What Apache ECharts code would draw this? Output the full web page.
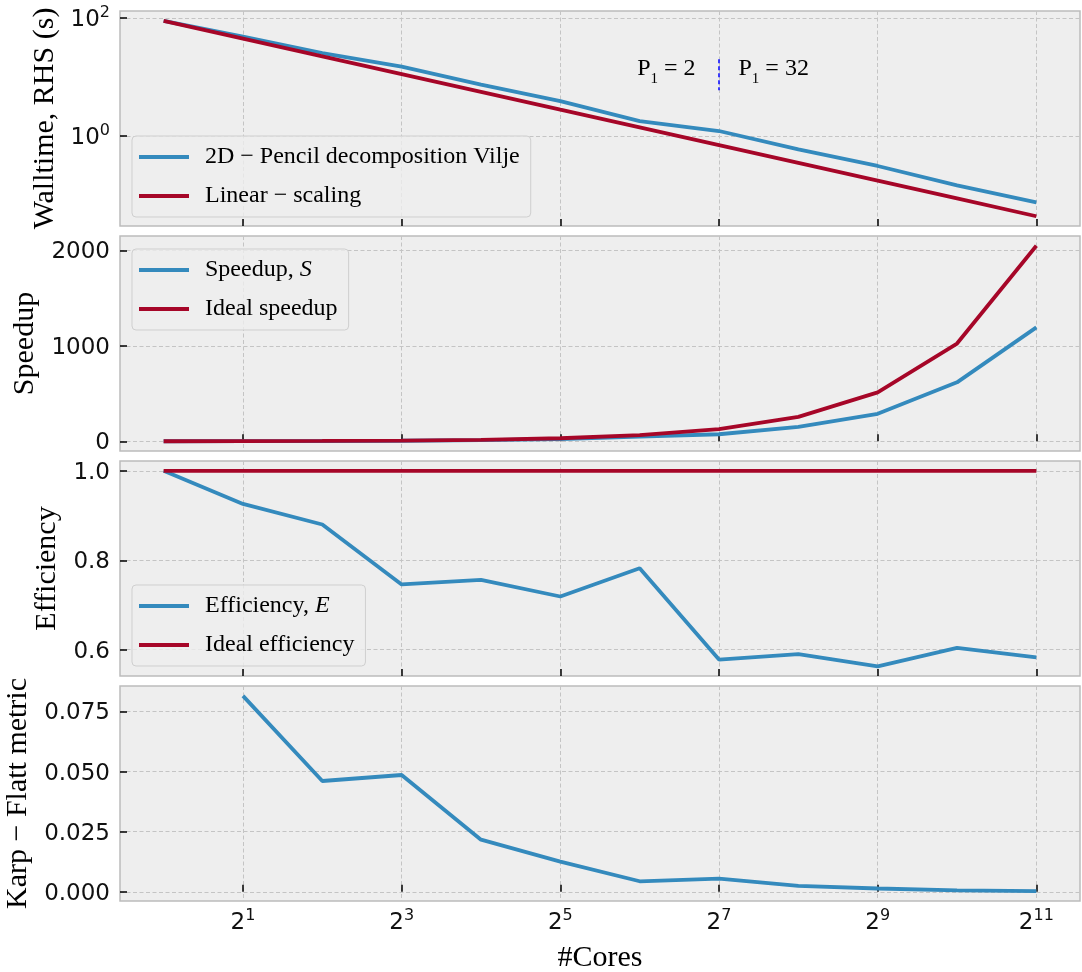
<!DOCTYPE html>
<html><head><meta charset="utf-8">
<script src="https://cdn.jsdelivr.net/npm/echarts@6/dist/echarts.min.js"></script>
<style>html,body{margin:0;padding:0;background:#fff}#c{width:1082px;height:972px}</style>
</head><body><div id="c"></div>
<script>
// ---------------- data ----------------
const cores = [1, 2, 4, 8, 16, 32, 64, 128, 256, 512, 1024, 2048];
const walltime = [90, 48.6, 25.6, 15.1, 7.44, 3.91, 1.80, 1.22, 0.596, 0.312, 0.146, 0.0754];
const linearScaling = [90, 45, 22.5, 11.25, 5.63, 2.81, 1.41, 0.703, 0.352, 0.176, 0.0879, 0.0439];
const speedup = [1, 1.85, 3.52, 5.97, 12.1, 23.0, 50.0, 74.0, 151, 288, 618, 1194];
const idealSpeedup = [1, 2, 4, 8, 16, 32, 64, 128, 256, 512, 1024, 2048];
const efficiency = [1.0, 0.926, 0.880, 0.746, 0.756, 0.719, 0.782, 0.578, 0.590, 0.563, 0.604, 0.583];
const idealEfficiency = [1, 1, 1, 1, 1, 1, 1, 1, 1, 1, 1, 1];
const karpFlatt = [null, 0.0815, 0.0461, 0.0486, 0.0217, 0.0126, 0.0044, 0.0055, 0.0025, 0.0014, 0.0006, 0.0003];

const xTicks = [2, 8, 32, 128, 512, 2048];
const xTickLabels = ['2^1', '2^3', '2^5', '2^7', '2^9', '2^11'];
const wallTicks = [1, 100];
const wallTickLabels = ['10^0', '10^2'];
const speedTicks = [0, 1000, 2000];
const speedTickLabels = ['0', '1000', '2000'];
const effTicks = [0.6, 0.8, 1.0];
const effTickLabels = ['0.6', '0.8', '1.0'];
const kfTicks = [0, 0.025, 0.05, 0.075];
const kfTickLabels = ['0.000', '0.025', '0.050', '0.075'];

const seriesNames = {
  wall: '2D − Pencil decomposition Vilje',
  lin: 'Linear − scaling',
  sp: 'Speedup, S',
  isp: 'Ideal speedup',
  eff: 'Efficiency, E',
  ieff: 'Ideal efficiency',
  kf: 'Karp − Flatt metric'
};
const yNames = ['Walltime, RHS (s)', 'Speedup', 'Efficiency', 'Karp − Flatt metric'];
const xName = '#Cores';
const switchCores = 128;
const switchLabels = ['P_1 = 2', 'P_1 = 32'];

// ---------------- helpers ----------------
const BLUE = '#348ABD', RED = '#A60628';
const TICK_FONT = 'DejaVu Sans';
const SERIF = 'Liberation Serif';

function pair(xs, ys) {
  const out = [];
  xs.forEach((x, i) => { if (ys[i] !== null && ys[i] !== undefined) out.push([x, ys[i]]); });
  return out;
}
function supText(str) {
  const p = str.split('^');
  return p.length > 1 ? '{b|' + p[0] + '}{s|' + p[1] + '}' : '{b|' + str + '}';
}
function subText(str) {
  const m = str.match(/^(\w)_(\w)(.*)$/);
  return m ? '{n|' + m[1] + '}{d|' + m[2] + '}{n|' + m[3] + '}' : '{n|' + str + '}';
}
function tickFormatter(ticks, labels) {
  return function (v) {
    for (let i = 0; i < ticks.length; i++) {
      if (Math.abs(v - ticks[i]) <= 1e-6 * Math.max(1, Math.abs(ticks[i]))) return supText(labels[i]);
    }
    return '';
  };
}
const tickRich = {
  b: { fontFamily: TICK_FONT, fontSize: 23, color: '#111', lineHeight: 27, verticalAlign: 'bottom' },
  s: { fontFamily: TICK_FONT, fontSize: 16, color: '#111', lineHeight: 16, verticalAlign: 'top' }
};
const gridLine = { show: true, lineStyle: { color: '#c4c4c4', type: [4, 2.5], width: 1 } };
const tickStyle = { show: true, inside: true, length: 7, lineStyle: { color: '#000', width: 1.5 } };

const tops = [11, 236, 461, 686];
const grids = tops.map(t => ({
  left: 120, width: 960, top: t, height: 215,
  show: true, backgroundColor: '#eeeeee', borderColor: '#bcbcbc', borderWidth: 1.5,
  containLabel: false, outerBoundsMode: 'none'
}));

const xAxes = tops.map((t, i) => ({
  type: 'log', logBase: 2, gridIndex: i,
  min: Math.pow(2, -0.55), max: Math.pow(2, 11.55),
  axisLine: { show: false },
  axisTick: Object.assign({ customValues: xTicks }, tickStyle),
  minorTick: { show: false }, minorSplitLine: { show: false },
  splitLine: gridLine,
  axisLabel: {
    show: i === 3, customValues: xTicks, margin: 7,
    formatter: tickFormatter(xTicks, xTickLabels), rich: tickRich
  },
  name: i === 3 ? xName : '', nameLocation: 'middle', nameGap: 42,
  nameTextStyle: { fontFamily: SERIF, fontSize: 30, color: '#000' }
}));

const yCfg = [
  { type: 'log', logBase: 10, min: 0.0300, max: 131.8, ticks: wallTicks, labels: wallTickLabels, gap: 59 },
  { type: 'value', min: -101.35, max: 2150.35, ticks: speedTicks, labels: speedTickLabels, gap: 76 },
  { type: 'value', min: 0.5413, max: 1.0219, ticks: effTicks, labels: effTickLabels, gap: 56 },
  { type: 'value', min: -0.0038, max: 0.0856, ticks: kfTicks, labels: kfTickLabels, gap: 80 }
];
const yAxes = yCfg.map((c, i) => {
  const a = {
    type: c.type, gridIndex: i, min: c.min, max: c.max,
    axisLine: { show: false },
    axisTick: Object.assign({ customValues: c.ticks }, tickStyle),
    minorTick: { show: false }, minorSplitLine: { show: false },
    splitLine: gridLine,
    axisLabel: { customValues: c.ticks, margin: 10, formatter: tickFormatter(c.ticks, c.labels), rich: tickRich },
    name: yNames[i], nameLocation: 'middle', nameGap: c.gap, nameRotate: 90,
    nameTextStyle: { fontFamily: SERIF, fontSize: 30, color: '#000' }
  };
  if (c.type === 'log') a.logBase = c.logBase;
  return a;
});

function line(name, xs, ys, color, idx, extra) {
  return Object.assign({
    type: 'line', name: name, xAxisIndex: idx, yAxisIndex: idx,
    data: pair(xs, ys), showSymbol: false, symbol: 'none',
    lineStyle: { color: color, width: 3.8 }, itemStyle: { color: color },
    animation: false, silent: true
  }, extra || {});
}

const subRich = {
  n: { fontFamily: SERIF, fontSize: 24, color: '#000', lineHeight: 30, verticalAlign: 'top' },
  d: { fontFamily: SERIF, fontSize: 15, color: '#000', lineHeight: 15, verticalAlign: 'bottom' }
};

const series = [
  line(seriesNames.wall, cores, walltime, BLUE, 0, {
    markLine: {
      silent: true, symbol: ['none', 'none'], label: { show: false }, animation: false,
      lineStyle: { color: '#0000ff', type: [4, 3], width: 1.5 },
      data: [[{ coord: [switchCores, 20] }, { coord: [switchCores, 6] }]]
    },
    markPoint: {
      silent: true, symbol: 'circle', symbolSize: 1, itemStyle: { color: 'rgba(0,0,0,0)' }, animation: false,
      data: [
        { coord: [switchCores, 12.5], label: { show: true, position: 'left', distance: 23, formatter: subText(switchLabels[0]), rich: subRich } },
        { coord: [switchCores, 12.5], label: { show: true, position: 'right', distance: 19, formatter: subText(switchLabels[1]), rich: subRich } }
      ]
    }
  }),
  line(seriesNames.lin, cores, linearScaling, RED, 0),
  line(seriesNames.sp, cores, speedup, BLUE, 1),
  line(seriesNames.isp, cores, idealSpeedup, RED, 1),
  line(seriesNames.eff, cores, efficiency, BLUE, 2),
  line(seriesNames.ieff, cores, idealEfficiency, RED, 2),
  line(seriesNames.kf, cores, karpFlatt, BLUE, 3)
];

const legendBase = {
  orient: 'vertical', icon: 'rect', itemWidth: 50, itemHeight: 3.8, itemGap: 15,
  padding: [9, 11, 9, 7], backgroundColor: 'rgba(238,238,238,0.8)',
  borderColor: '#cfcfcf', borderWidth: 1, borderRadius: 4, selectedMode: false,
  textStyle: {
    fontFamily: SERIF, fontSize: 24, color: '#000', lineHeight: 24, padding: [0, 0, 0, 11],
    rich: { i: { fontFamily: SERIF, fontSize: 24, fontStyle: 'italic', color: '#000' } }
  },
  formatter: name => name.replace(/, ([SE])$/, ', {i|$1}')
};
const legends = [
  Object.assign({ data: [seriesNames.wall, seriesNames.lin], left: 132, top: 136 }, legendBase),
  Object.assign({ data: [seriesNames.sp, seriesNames.isp], left: 132, top: 249 }, legendBase),
  Object.assign({ data: [seriesNames.eff, seriesNames.ieff], left: 132, top: 585 }, legendBase)
];

const chart = echarts.init(document.getElementById('c'), null, { renderer: 'canvas' });
chart.setOption({
  animation: false,
  backgroundColor: '#ffffff',
  grid: grids, xAxis: xAxes, yAxis: yAxes, legend: legends, series: series
});
</script></body></html>
